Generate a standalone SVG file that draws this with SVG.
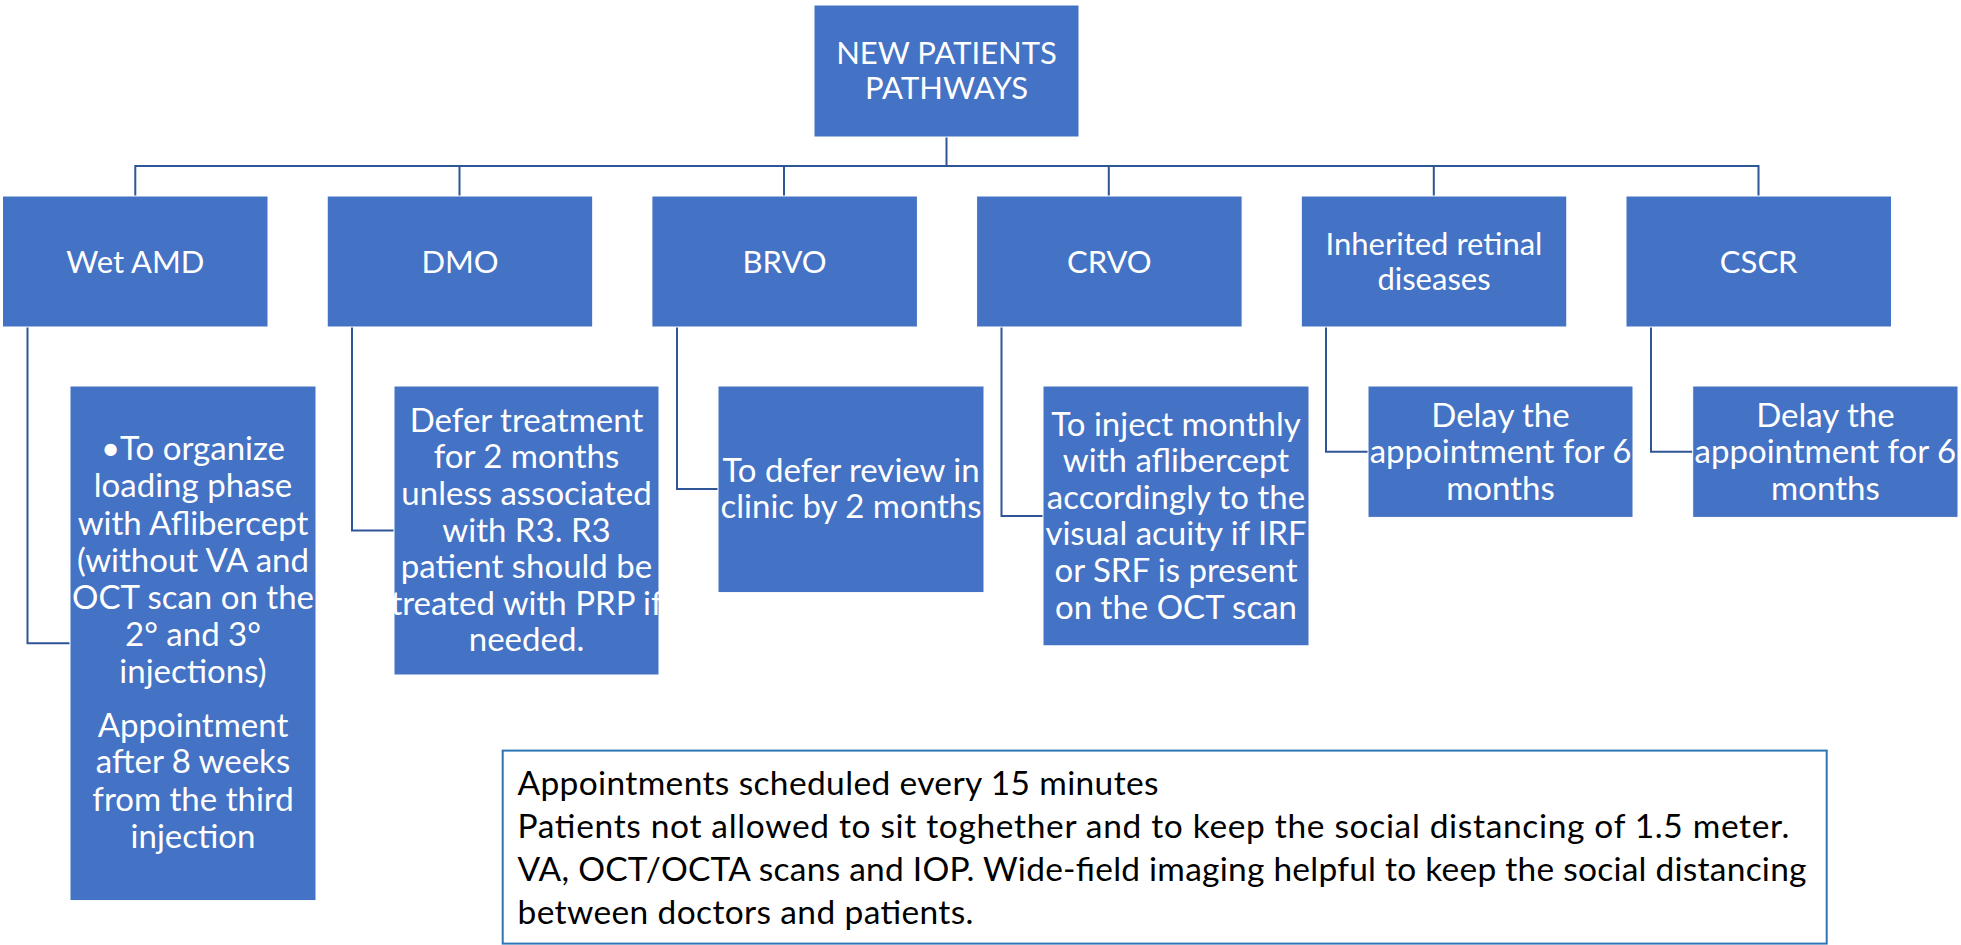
<svg xmlns="http://www.w3.org/2000/svg" width="1961" height="945" viewBox="0 0 1961 945">
<style>
.box{fill:#4472C4;stroke:#ffffff;stroke-width:1}
.t{font-family:Lato,'Liberation Sans',sans-serif;font-size:31px;fill:#ffffff;text-anchor:middle}
.c{font-family:Lato,'Liberation Sans',sans-serif;font-size:33px;fill:#ffffff;text-anchor:middle}
.conn{fill:none;stroke:#2F5597;stroke-width:2}
.note{fill:#ffffff;stroke:#2E75B6;stroke-width:2}
.nt{font-family:Lato,'Liberation Sans',sans-serif;font-size:33.5px;fill:#000000}
</style>
<rect x="0" y="0" width="1961" height="945" fill="#ffffff"/>
<g id="connectors">
<path class="conn" d="M946.5 137 V166"/>
<path class="conn" d="M135.3 196 V166 H1758.5 V196"/>
<path class="conn" d="M459.5 166 V196 M784 166 V196 M1108.8 166 V196 M1433.8 166 V196"/>
<path class="conn" d="M27.5 327 V643.3 H70"/>
<path class="conn" d="M352 327 V530.5 H394"/>
<path class="conn" d="M677 327 V489 H718"/>
<path class="conn" d="M1001.5 327 V516 H1043"/>
<path class="conn" d="M1326 327 V451.7 H1368"/>
<path class="conn" d="M1651 327 V451.7 H1692.7"/>
</g>
<g id="root">
<rect class="box" x="814" y="5" width="265" height="132"/>
<text class="t" x="946.5" y="64">NEW PATIENTS</text>
<text class="t" x="946.5" y="99">PATHWAYS</text>
</g>
<g id="wetamd">
<rect class="box" x="2.5" y="196" width="265.5" height="131"/>
<text class="t" x="135.3" y="272.5">Wet AMD</text>
</g>
<g id="dmo">
<rect class="box" x="327.2" y="196" width="265.5" height="131"/>
<text class="t" x="460" y="272.5">DMO</text>
</g>
<g id="brvo">
<rect class="box" x="651.9" y="196" width="265.5" height="131"/>
<text class="t" x="784.6" y="272.5">BRVO</text>
</g>
<g id="crvo">
<rect class="box" x="976.6" y="196" width="265.5" height="131"/>
<text class="t" x="1109.3" y="272.5">CRVO</text>
</g>
<g id="inherited">
<rect class="box" x="1301.3" y="196" width="265.5" height="131"/>
<text class="t" x="1434" y="255">Inherited retinal</text>
<text class="t" x="1434" y="290">diseases</text>
</g>
<g id="cscr">
<rect class="box" x="1626" y="196" width="265.5" height="131"/>
<text class="t" x="1758.7" y="272.5">CSCR</text>
</g>
<g id="wetamd-action">
<rect class="box" x="70" y="386" width="246" height="514.6"/>
<text class="c" x="193" y="459.8">•To organize</text>
<text class="c" x="193" y="497">loading phase</text>
<text class="c" x="193" y="534.5">with Aflibercept</text>
<text class="c" x="193" y="571.7">(without VA and</text>
<text class="c" x="193" y="609">OCT scan on the</text>
<text class="c" x="193" y="645.8">2° and 3°</text>
<text class="c" x="193" y="683.4">injections)</text>
<text class="c" x="193" y="736.7">Appointment</text>
<text class="c" x="193" y="773.3">after 8 weeks</text>
<text class="c" x="193" y="810.7">from the third</text>
<text class="c" x="193" y="848.3">injection</text>
</g>
<g id="dmo-action">
<rect class="box" x="394" y="386" width="265" height="289"/>
<text class="c" x="526.5" y="431.7">Defer treatment</text>
<text class="c" x="526.5" y="468.3">for 2 months</text>
<text class="c" x="526.5" y="504.9">unless associated</text>
<text class="c" x="526.5" y="541.5">with R3. R3</text>
<text class="c" x="526.5" y="578.1">patient should be</text>
<text class="c" x="526.5" y="614.7">treated with PRP if</text>
<text class="c" x="526.5" y="651.3">needed.</text>
</g>
<g id="brvo-action">
<rect class="box" x="718" y="386" width="266" height="206.6"/>
<text class="c" x="851" y="481.7">To defer review in</text>
<text class="c" x="851" y="518.3">clinic by 2 months</text>
</g>
<g id="crvo-action">
<rect class="box" x="1043" y="386" width="266" height="259.8"/>
<text class="c" x="1176" y="435.5">To inject monthly</text>
<text class="c" x="1176" y="472.1">with aflibercept</text>
<text class="c" x="1176" y="508.7">accordingly to the</text>
<text class="c" x="1176" y="545.3">visual acuity if IRF</text>
<text class="c" x="1176" y="581.9">or SRF is present</text>
<text class="c" x="1176" y="618.5">on the OCT scan</text>
</g>
<g id="inherited-action">
<rect class="box" x="1368" y="386" width="265" height="131.4"/>
<text class="c" x="1500.5" y="426.6">Delay the</text>
<text class="c" x="1500.5" y="463.2">appointment for 6</text>
<text class="c" x="1500.5" y="499.8">months</text>
</g>
<g id="cscr-action">
<rect class="box" x="1692.7" y="386" width="265.3" height="131.4"/>
<text class="c" x="1825.4" y="426.6">Delay the</text>
<text class="c" x="1825.4" y="463.2">appointment for 6</text>
<text class="c" x="1825.4" y="499.8">months</text>
</g>
<g id="note">
<rect class="note" x="502.7" y="750.6" width="1324" height="193"/>
<text class="nt" x="517.5" y="795.4" textLength="641">Appointments scheduled every 15 minutes</text>
<text class="nt" x="517.5" y="838" textLength="1272">Patients not allowed to sit toghether and to keep the social distancing of 1.5 meter.</text>
<text class="nt" x="517.5" y="881" textLength="1289">VA, OCT/OCTA scans and IOP. Wide-field imaging helpful to keep the social distancing</text>
<text class="nt" x="517.5" y="923.7" textLength="456">between doctors and patients.</text>
</g>
</svg>
